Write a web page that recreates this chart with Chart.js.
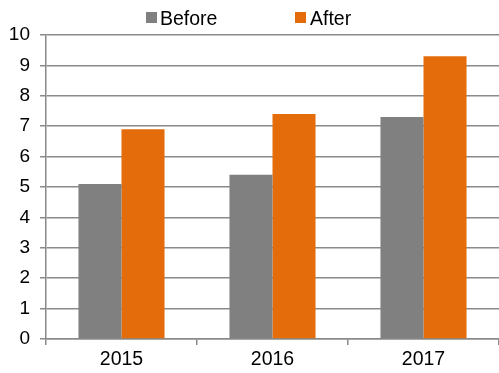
<!DOCTYPE html>
<html>
<head>
<meta charset="utf-8">
<script src="https://cdn.jsdelivr.net/npm/chart.js@4/dist/chart.umd.min.js"></script>
<style>
  html, body { margin: 0; padding: 0; background: #fff; }
  #wrap { position: relative; width: 499px; height: 373px; font-family: "Liberation Sans", Arial, sans-serif; }
  #chart { position: absolute; left: 0; top: 0; }
  .lg-box { position: absolute; width: 11px; height: 11px; top: 12px; }
  .lg-text { position: absolute; top: 8px; font-size: 19.5px; line-height: 20px; color: #000; }
</style>
</head>
<body>
<div id="wrap">
  <canvas id="chart" width="499" height="373"></canvas>
  <span class="lg-box" style="left:146px;background:#808080"></span>
  <span class="lg-text" style="left:160px">Before</span>
  <span class="lg-box" style="left:295px;background:#E46C0A"></span>
  <span class="lg-text" style="left:310px">After</span>
</div>
<script>
// ── Data ──────────────────────────────────────────────────────────────────────
const YEARS  = ['2015', '2016', '2017'];
const BEFORE = [5.1, 5.4, 7.3];
const AFTER  = [6.9, 7.4, 9.3];
const Y_TICKS = [0, 1, 2, 3, 4, 5, 6, 7, 8, 9, 10];

const GRID_COLOR = '#8a8a8a';

new Chart(document.getElementById('chart').getContext('2d'), {
  type: 'bar',
  data: {
    labels: YEARS,
    datasets: [
      { label: 'Before', data: BEFORE, backgroundColor: '#808080', borderWidth: 0 },
      { label: 'After',  data: AFTER,  backgroundColor: '#E46C0A', borderWidth: 0 },
    ]
  },
  options: {
    responsive: false,
    animation: false,
    layout: { padding: { top: 35, left: 0, right: 0, bottom: 0 } },
    plugins: { legend: { display: false }, tooltip: { enabled: false } },
    datasets: { bar: { categoryPercentage: 0.57, barPercentage: 1.0 } },
    scales: {
      x: {
        grid: { drawOnChartArea: false, drawTicks: true, tickLength: 6, color: GRID_COLOR, lineWidth: 1.5, offset: true },
        border: { color: GRID_COLOR, width: 1.5 },
        ticks: { color: '#000', font: { family: 'Liberation Sans', size: 19.5 }, padding: 3 },
        afterFit: s => { s.height = 34; }
      },
      y: {
        min: 0, max: 10,
        afterBuildTicks: s => { s.ticks = Y_TICKS.map(v => ({ value: v })); },
        grid: { color: GRID_COLOR, lineWidth: 1.5, tickLength: 6 },
        border: { color: GRID_COLOR, width: 1.5 },
        ticks: { color: '#000', font: { family: 'Liberation Sans', size: 19 }, padding: 10 },
        afterFit: s => { s.width = 46; }
      }
    }
  }
});
</script>
</body>
</html>
